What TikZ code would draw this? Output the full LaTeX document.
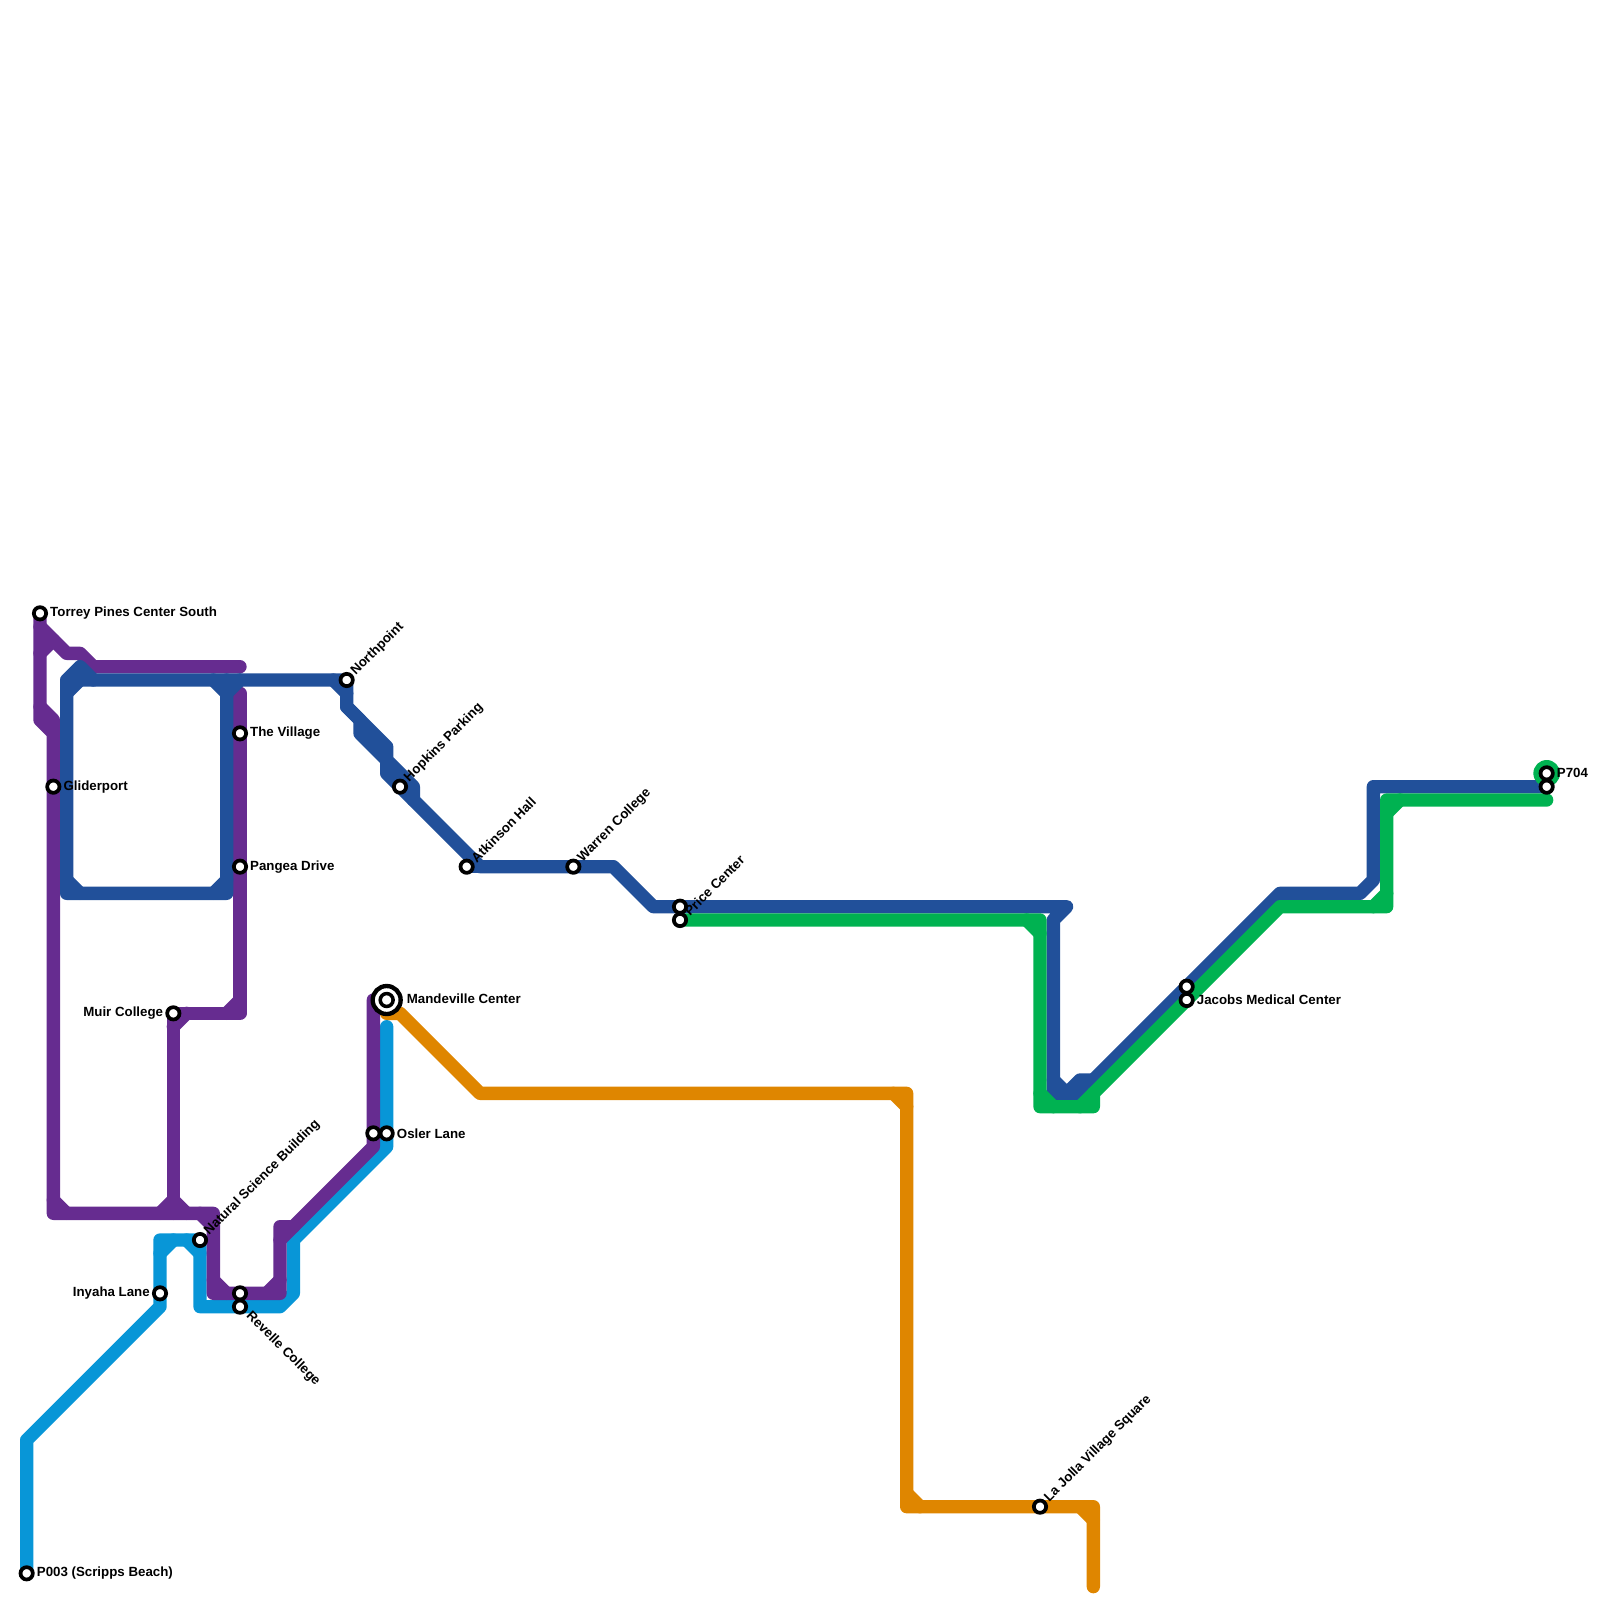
\documentclass[tikz,border=0pt]{standalone}
\usepackage{fontspec}
\setmainfont{Liberation Sans}
\usetikzlibrary{positioning,calc}

\definecolor{linepurple}{HTML}{662C90}
\definecolor{lineblue}{HTML}{21509A}
\definecolor{linegreen}{HTML}{00B251}
\definecolor{linecyan}{HTML}{0896D7}
\definecolor{lineorange}{HTML}{DF8600}

\tikzset{
  metro/.style={line width=11.38pt, line join=round, line cap=round},
  stn/.style={draw=black, fill=white, circle, line width=3.2pt, minimum size=10.5pt, inner sep=0pt},
  lbl/.style={font=\fontsize{11.35}{13}\selectfont\bfseries, inner sep=0pt, text=black},
}

\begin{document}
\begin{tikzpicture}[x=0.4cm,y=-0.4cm]
\useasboundingbox (0,0) rectangle (120,120);

% Station positions
\coordinate (torrey) at (3,46);
\coordinate (glider) at (4,59);
\coordinate (village) at (18,55);
\coordinate (pangea) at (18,65);
\coordinate (muir) at (13,76);
\coordinate (north) at (26,51);
\coordinate (hopkins) at (30,59);
\coordinate (atkinson) at (35,65);
\coordinate (warren) at (43,65);
\coordinate (priceb) at (51,68);
\coordinate (priceg) at (51,69);
\coordinate (jacobsb) at (89,74);
\coordinate (jacobsg) at (89,75);
\coordinate (pgreen) at (116,58);
\coordinate (pblue) at (116,59);
\coordinate (mandeville) at (29,75);
\coordinate (oslerp) at (28,85);
\coordinate (oslerc) at (29,85);
\coordinate (science) at (15,93);
\coordinate (inyaha) at (12,97);
\coordinate (revellep) at (18,97);
\coordinate (revellec) at (18,98);
\coordinate (scripps) at (2,118);
\coordinate (lajolla) at (78,113);

% Cyan line
\draw[metro, linecyan] (scripps) -- (2,108) -- (12,98) -- (inyaha) -- (12,93) -- (science) -- (15,98) -- (21,98) -- (22,97) -- (22,93) -- (29,86) -- (oslerc) -- (29,77);
\draw[metro, linecyan] (12,94) -- (13,93);
\draw[metro, linecyan] (14,93) -- (15,94);

% Purple line
\draw[metro, linepurple] (torrey) -- (3,54) -- (4,55) -- (glider) -- (4,91) -- (16,91) -- (16,97) -- (21,97) -- (21,92) -- (22,92) -- (28,86) -- (oslerp) -- (28,75);
\draw[metro, linepurple] (3,47) -- (5,49) -- (6,49) -- (7,50) -- (18,50);
\draw[metro, linepurple] (3,49) -- (4,48);
\draw[metro, linepurple] (3,53) -- (4,54) -- (4,55);
\draw[metro, linepurple] (4,90) -- (5,91);
\draw[metro, linepurple] (15,91) -- (16,92);
\draw[metro, linepurple] (16,96) -- (17,97);
\draw[metro, linepurple] (20,97) -- (21,96);
\draw[metro, linepurple] (21,93) -- (22,92);
\draw[metro, linepurple] (18,52) -- (village) -- (pangea) -- (18,76) -- (muir) -- (13,91);
\draw[metro, linepurple] (17,76) -- (18,75);
\draw[metro, linepurple] (13,77) -- (14,76);
\draw[metro, linepurple] (12,91) -- (13,90) -- (14,91);

% Blue line
\draw[metro, lineblue] (7,51) -- (6,50) -- (5,51) -- (5,67) -- (17,67) -- (17,51);
\draw[metro, lineblue] (6,51) -- (north) -- (26,53) -- (29,56) -- (29,57) -- (31,59) -- (31,60) -- (36,65) -- (46,65) -- (49,68) -- (80,68) -- (79,69) -- (79,82) -- (81,82) -- (82,81) -- (96,67) -- (102,67) -- (103,66) -- (103,59) -- (pblue);
\draw[metro, lineblue] (26,53) -- (27,54) -- (27,55) -- (29,57) -- (29,58) -- (hopkins) -- (31,60);
\draw[metro, lineblue] (5,52) -- (6,51);
\draw[metro, lineblue] (5,66) -- (6,67);
\draw[metro, lineblue] (16,51) -- (17,52) -- (18,51);
\draw[metro, lineblue] (16,67) -- (17,66);
\draw[metro, lineblue] (25,51) -- (26,52);
\draw[metro, lineblue] (35,65) -- (36,65);
\draw[metro, lineblue] (79,81) -- (80,82) -- (81,81) -- (82,81);

% Green line
\fill[linegreen] (pgreen) circle (1);
\draw[metro, linegreen] (priceg) -- (78,69) -- (78,83) -- (82,83) -- (82,82) -- (96,68) -- (104,68) -- (104,60) -- (116,60);
\draw[metro, linegreen] (77,69) -- (78,70);
\draw[metro, linegreen] (78,82) -- (79,83);
\draw[metro, linegreen] (81,83) -- (82,82);
\draw[metro, linegreen] (103,68) -- (104,67);
\draw[metro, linegreen] (104,61) -- (105,60);

% Orange line
\draw[metro, lineorange] (29,76) -- (30,76) -- (36,82) -- (68,82) -- (68,113) -- (lajolla) -- (82,113) -- (82,119);
\draw[metro, lineorange] (67,82) -- (68,83);
\draw[metro, lineorange] (68,112) -- (69,113);
\draw[metro, lineorange] (81,113) -- (82,114);

% Stations
\foreach \name in {torrey,glider,village,pangea,muir,north,hopkins,atkinson,warren,priceb,priceg,jacobsb,jacobsg,pgreen,pblue,oslerp,oslerc,science,inyaha,revellep,revellec,scripps,lajolla}
  \node[stn] (\name-st) at (\name) {};
\node[draw=black, fill=white, circle, line width=3.7pt, minimum size=23.9pt, inner sep=0pt] (mandeville-st) at (mandeville) {};
\node[draw=black, fill=white, circle, line width=3pt, minimum size=11pt, inner sep=0pt] (mandeville-in) at (mandeville) {};

% Labels, plain
\node[lbl, right] (torrey-lb) at (3.75,46) {Torrey Pines Center South};
\node[lbl, right] (glider-lb) at (4.75,59) {Gliderport};
\node[lbl, right] (village-lb) at (18.75,55) {The Village};
\node[lbl, right] (pangea-lb) at (18.75,65) {Pangea Drive};
\node[lbl, left] (muir-lb) at (12.25,76) {Muir College};
\node[lbl, right] (mandeville-lb) at (30.5,74.9) {Mandeville Center};
\node[lbl, right] (osler-lb) at (29.75,85) {Osler Lane};
\node[lbl, left] (inyaha-lb) at (11.25,97) {Inyaha Lane};
\node[lbl, right] (scripps-lb) at (2.75,118) {P003 (Scripps Beach)};
\node[lbl, right] (jacobs-lb) at (89.75,75) {Jacobs Medical Center};
\node[lbl, right] (p704-lb) at (116.75,58) {P704};

% Labels, slanted
\node[lbl, rotate=45, anchor=west] (north-lb) at (26.5,50.5) {Northpoint};
\node[lbl, rotate=45, anchor=west] (hopkins-lb) at (30.5,58.5) {Hopkins Parking};
\node[lbl, rotate=45, anchor=west] (atkinson-lb) at (35.5,64.5) {Atkinson Hall};
\node[lbl, rotate=45, anchor=west] (warren-lb) at (43.5,64.5) {Warren College};
\node[lbl, rotate=45, anchor=west] (price-lb) at (51.5,68.5) {Price Center};
\node[lbl, rotate=45, anchor=west] (science-lb) at (15.5,92.5) {Natural Science Building};
\node[lbl, rotate=45, anchor=west] (lajolla-lb) at (78.5,112.5) {La Jolla Village Square};
\node[lbl, rotate=-45, anchor=west] (revelle-lb) at (18.6,98.55) {Revelle College};
\end{tikzpicture}
\end{document}
